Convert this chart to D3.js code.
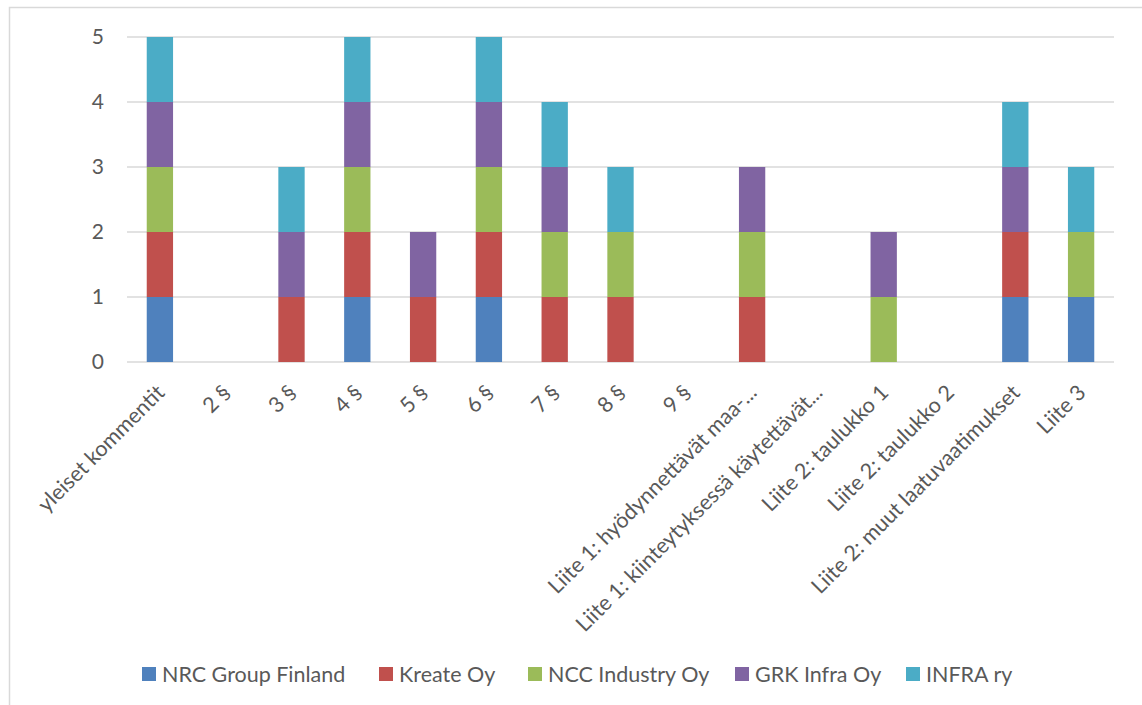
<!DOCTYPE html>
<html>
<head>
<meta charset="utf-8">
<script src="https://cdn.jsdelivr.net/npm/d3@7"></script>
<style>
  body { margin: 0; background: #fff; }
  text { font-family: Lato, "Open Sans", sans-serif; fill: #595959; }
</style>
</head>
<body>
<div id="chart"></div>
<script>
// categories (x axis)
var categories = ['yleiset kommentit', '2 §', '3 §', '4 §', '5 §', '6 §', '7 §', '8 §', '9 §',
    'Liite 1: hyödynnettävät maa-...', 'Liite 1: kiinteytyksessä käytettävät...',
    'Liite 2: taulukko 1', 'Liite 2: taulukko 2', 'Liite 2: muut laatuvaatimukset', 'Liite 3'];

var seriesNames = ['NRC Group Finland', 'Kreate Oy', 'NCC Industry Oy', 'GRK Infra Oy', 'INFRA ry'];
var seriesColors = ['#4f81bd', '#c0504d', '#9bbb59', '#8064a2', '#4bacc6'];

// series values per category
var nrc    = [1, 0, 0, 1, 0, 1, 0, 0, 0, 0, 0, 0, 0, 1, 1];
var kreate = [1, 0, 1, 1, 1, 1, 1, 1, 0, 1, 0, 0, 0, 1, 0];
var ncc    = [1, 0, 0, 1, 0, 1, 1, 1, 0, 1, 0, 1, 0, 0, 1];
var grk    = [1, 0, 1, 1, 1, 1, 1, 0, 0, 1, 0, 1, 0, 1, 0];
var infra  = [1, 0, 1, 1, 0, 1, 1, 1, 0, 0, 0, 0, 0, 1, 1];

var yTicks = [0, 1, 2, 3, 4, 5];

var svgWidth = 1142;
var svgHeight = 705;

var margin = { top: 37, right: 28, bottom: 343, left: 127 };
var width = svgWidth - margin.left - margin.right;
var height = svgHeight - margin.top - margin.bottom;

var svg = d3.select('#chart')
    .append('svg')
    .attr('width', svgWidth)
    .attr('height', svgHeight);

// chart area outline (cropped at right / bottom in the original)
svg.append('rect')
    .attr('x', 9.5)
    .attr('y', 7.5)
    .attr('width', 1200)
    .attr('height', 800)
    .attr('fill', 'none')
    .attr('stroke', '#d9d9d9')
    .attr('stroke-width', 1.5);

var chartGroup = svg.append('g')
    .attr('transform', `translate(${margin.left}, ${margin.top})`);

// build table for stacking
var table = categories.map(function(c, i) {
    return {
        cat: c,
        'NRC Group Finland': nrc[i],
        'Kreate Oy': kreate[i],
        'NCC Industry Oy': ncc[i],
        'GRK Infra Oy': grk[i],
        'INFRA ry': infra[i]
    };
});

var stacked = d3.stack().keys(seriesNames)(table);

var xScale = d3.scaleBand()
    .domain(categories)
    .range([0, width])
    .paddingInner(0.6)
    .paddingOuter(0.3);

var yScale = d3.scaleLinear()
    .domain([0, 5])
    .range([height, 0]);

// gridlines
chartGroup.append('g')
    .selectAll('line')
    .data(yTicks)
    .enter()
    .append('line')
    .attr('x1', 0)
    .attr('x2', width)
    .attr('y1', d => yScale(d))
    .attr('y2', d => yScale(d))
    .attr('stroke', '#d9d9d9')
    .attr('stroke-width', 1.5);

// y axis labels
var leftAxis = d3.axisLeft(yScale)
    .tickValues(yTicks)
    .tickFormat(d3.format('d'))
    .tickSize(0)
    .tickPadding(23);
var yAxis = chartGroup.append('g').call(leftAxis);
yAxis.select('.domain').remove();
yAxis.selectAll('text')
    .style('font-size', '21px')
    .attr('fill', '#595959');

// bars
var layers = chartGroup.selectAll('.layer')
    .data(stacked)
    .enter()
    .append('g')
    .attr('class', 'layer')
    .attr('fill', (d, i) => seriesColors[i]);

layers.selectAll('rect')
    .data(d => d)
    .enter()
    .filter(d => d[1] - d[0] > 0)
    .append('rect')
    .attr('x', d => xScale(d.data.cat))
    .attr('y', d => yScale(d[1]))
    .attr('width', xScale.bandwidth())
    .attr('height', d => yScale(d[0]) - yScale(d[1]));

// x axis labels, rotated
var bottomAxis = d3.axisBottom(xScale).tickSize(0).tickPadding(0);
var xAxis = chartGroup.append('g')
    .attr('transform', `translate(0, ${height})`)
    .call(bottomAxis);
xAxis.select('.domain').remove();
xAxis.selectAll('text')
    .style('font-size', '21.5px')
    .attr('fill', '#595959')
    .attr('text-anchor', 'end')
    .attr('y', 0)
    .attr('dy', 0)
    .attr('transform', 'translate(6, 32) rotate(-45)');

// legend
var legendX = [142, 379, 528, 735, 906];
var legend = svg.append('g')
    .selectAll('g')
    .data(seriesNames)
    .enter()
    .append('g')
    .attr('transform', (d, i) => `translate(${legendX[i]}, 667)`);

legend.append('rect')
    .attr('width', 14)
    .attr('height', 14)
    .attr('fill', (d, i) => seriesColors[i]);

legend.append('text')
    .attr('x', 20)
    .attr('y', 15)
    .style('font-size', '21.5px')
    .text(d => d);
</script>
</body>
</html>
